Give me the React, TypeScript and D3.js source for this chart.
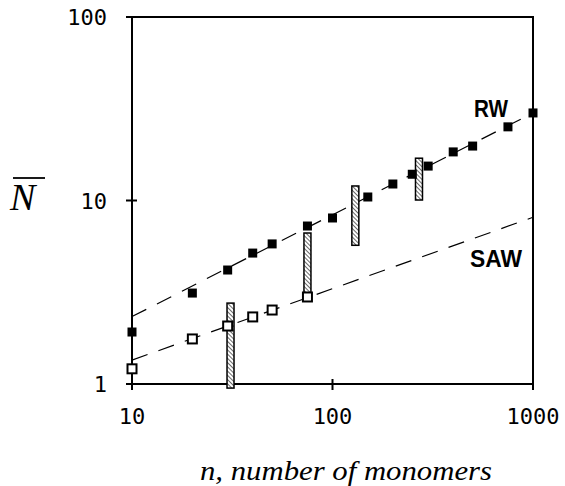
import React from 'react'
import * as d3 from 'd3'

// number of monomers (x) and mean N (y)
const rwN = [10, 20, 30, 40, 50, 75, 100, 150, 200, 250, 300, 400, 500, 750, 1000]
const rwVal = [1.92, 3.13, 4.18, 5.17, 5.8, 7.26, 8.03, 10.45, 12.3, 13.9, 15.4, 18.4, 19.8, 25.2, 30]
const sawN = [10, 20, 30, 40, 50, 75]
const sawVal = [1.21, 1.76, 2.07, 2.32, 2.53, 2.98]

// hatched range bars
const barN = [31, 75, 130, 270]
const barLow = [0.95, 3.0, 5.7, 10.06]
const barHigh = [2.76, 6.65, 12.0, 17.0]

// dashed fits (end points)
const fitN = [10, 1000]
const rwFit = [2.33, 30]
const sawFit = [1.35, 8.1]

const xTicks = [10, 100, 1000]
const yTicks = [1, 10, 100]

const W = 565
const H = 486
const left = 132
const right = 533
const top = 17
const bottom = 384

const App = () => {
  const x = d3.scaleLog().domain([10, 1000]).range([left, right])
  const y = d3.scaleLog().domain([1, 100]).range([bottom, top])

  const line = d3.line<number>()
    .x((_, i) => x(fitN[i]))
    .y(d => y(d))

  const mono = '"DejaVu Sans Mono", monospace'
  const barW = 7

  return (
    <svg width={W} height={H} style={{ position: 'absolute', left: 0, top: 0, background: '#fff' }}>
      <defs>
        <pattern id="hatch" width="3" height="3" patternUnits="userSpaceOnUse" patternTransform="rotate(-45)">
          <rect width="3" height="3" fill="#fff" />
          <line x1="0" y1="0" x2="0" y2="3" stroke="#444" strokeWidth="1.6" />
        </pattern>
      </defs>

      {/* fits */}
      <path d={line(rwFit) || ''} fill="none" stroke="#000" strokeWidth={1.2} strokeDasharray="16,12" />
      <path d={line(sawFit) || ''} fill="none" stroke="#000" strokeWidth={1.2} strokeDasharray="16.5,11.5" />

      {/* frame */}
      <rect x={left} y={top} width={right - left} height={bottom - top} fill="none" stroke="#000" strokeWidth={2} />

      {/* ticks */}
      {xTicks.map(t => (
        <g key={'xt' + t}>
          <line x1={x(t)} x2={x(t)} y1={bottom - 5} y2={bottom + 6} stroke="#000" strokeWidth={2} />
          <text x={x(t)} y={424} textAnchor="middle" fontFamily={mono} fontSize={22} fill="#000">{t}</text>
        </g>
      ))}
      {yTicks.map(t => (
        <g key={'yt' + t}>
          <line x1={left - 6} x2={left + 5} y1={y(t)} y2={y(t)} stroke="#000" strokeWidth={2} />
          <text x={107} y={y(t) + 8} textAnchor="end" fontFamily={mono} fontSize={22} fill="#000">{t}</text>
        </g>
      ))}

      {/* range bars */}
      {barN.map((n, i) => (
        <rect key={'b' + i} x={x(n) - barW / 2} y={y(barHigh[i])} width={barW}
          height={y(barLow[i]) - y(barHigh[i])} fill="url(#hatch)" stroke="#000" strokeWidth={1.5} />
      ))}

      {/* RW markers */}
      {rwN.map((n, i) => (
        <rect key={'rw' + i} x={x(n) - 4.5} y={y(rwVal[i]) - 4.5} width={9} height={9} fill="#000" />
      ))}
      {/* SAW markers */}
      {sawN.map((n, i) => (
        <rect key={'saw' + i} x={x(n) - 4.5} y={y(sawVal[i]) - 4.5} width={9} height={9}
          fill="#fff" stroke="#000" strokeWidth={2} />
      ))}

      <text x={474} y={117} fontFamily='"Liberation Sans", Arial, sans-serif' fontWeight="bold" fontSize={24}
        textLength={34} lengthAdjust="spacingAndGlyphs">RW</text>
      <text x={470} y={267} fontFamily='"Liberation Sans", Arial, sans-serif' fontWeight="bold" fontSize={24}
        textLength={52} lengthAdjust="spacingAndGlyphs">SAW</text>

      {/* axis titles */}
      <text x={200} y={480} fontFamily='"Liberation Serif", "Times New Roman", serif' fontStyle="italic"
        fontSize={28} textLength={292} lengthAdjust="spacingAndGlyphs">n, number of monomers</text>
      <text x={10} y={210} fontFamily='"Liberation Serif", "Times New Roman", serif' fontStyle="italic"
        fontSize={38}>N</text>
      <line x1={13} x2={45} y1={178} y2={178} stroke="#000" strokeWidth={1.8} />
    </svg>
  )
}

export default App
